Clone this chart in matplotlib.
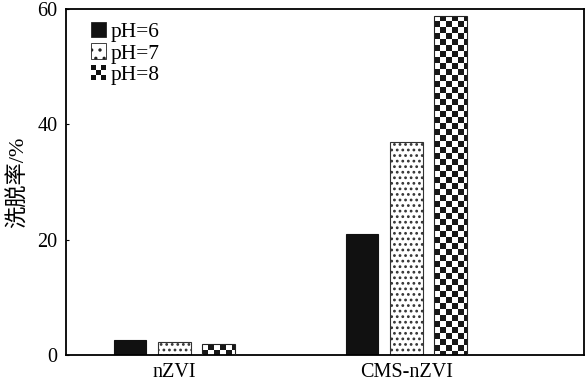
import numpy as np
import matplotlib
matplotlib.use("Agg")
import matplotlib.pyplot as plt
from matplotlib.patches import Rectangle
from matplotlib.legend_handler import HandlerBase

plt.rcParams['font.family'] = ['Liberation Serif', 'Noto Sans CJK SC']
plt.rcParams['hatch.linewidth'] = 1.2

groups = ['nZVI', 'CMS-nZVI']
series = ['pH=6', 'pH=7', 'pH=8']
values = {
    'pH=6': [2.6, 21.0],
    'pH=7': [2.3, 36.9],
    'pH=8': [1.9, 58.8],
}
yticks = [0, 20, 40, 60]

fig = plt.figure(figsize=(5.86, 3.87), dpi=100)
ax = fig.add_axes([66/586, 32/387, 518/586, 346/387])

x = np.arange(len(groups))
width = 0.142
offset = 0.19

# checker texture
checker = np.indices((200, 200)).sum(axis=0) % 2


def draw_checker(ax, x0, y0, w, h, cells_x=5.5):
    rect = Rectangle((x0, y0), w, h, facecolor='none', edgecolor='#222222', lw=0.8, zorder=3)
    ax.add_patch(rect)
    px_w = w * 232
    cell_px = px_w / cells_x
    px_per_y = 346 / 60
    cell_y = cell_px / px_per_y
    ny = int(np.ceil(h / cell_y))
    nx = int(np.ceil(cells_x))
    img = checker[:ny, :nx]
    im = ax.imshow(img, cmap='gray_r', extent=(x0, x0 + nx * (w / cells_x), y0 + h - ny * cell_y, y0 + h),
                   origin='upper', interpolation='nearest', aspect='auto', vmin=0, vmax=1.1, zorder=2)
    im.set_clip_path(rect)


for i, s in enumerate(series):
    pos = x + (i - 1) * offset
    for p, v in zip(pos, values[s]):
        if s == 'pH=6':
            ax.bar(p, v, width, color='#111111', edgecolor='#111111', lw=0.8, zorder=2)
        elif s == 'pH=7':
            ax.bar(p, v, width, color='white', edgecolor='#333333', hatch='...', lw=0.8, zorder=2)
        else:
            draw_checker(ax, p - width / 2, 0, width, v)


class CheckerHandler(HandlerBase):
    def create_artists(self, legend, orig_handle, xdescent, ydescent, width, height, fontsize, trans):
        arts = []
        n = 3
        s = height
        x0 = -xdescent + (width - s) / 2
        y0 = -ydescent
        c = s / n
        for a in range(n):
            for b in range(n):
                col = '#111111' if (a + b) % 2 == 0 else 'white'
                arts.append(Rectangle((x0 + a * c, y0 + b * c), c, c, facecolor=col,
                                      edgecolor='none', transform=trans))
        return arts


class SquareHandler(HandlerBase):
    def create_artists(self, legend, orig_handle, xdescent, ydescent, width, height, fontsize, trans):
        s = height
        x0 = -xdescent + (width - s) / 2
        r = Rectangle((x0, -ydescent), s, s, facecolor=orig_handle.get_facecolor(),
                      edgecolor='#222222', hatch=orig_handle.get_hatch(), lw=0.6, transform=trans)
        return [r]


h1 = Rectangle((0, 0), 1, 1, facecolor='#111111')
h2 = Rectangle((0, 0), 1, 1, facecolor='white', hatch='..')
h3 = Rectangle((0, 0), 1, 1)
ax.legend([h1, h2, h3], series, loc='upper left', bbox_to_anchor=(0.02, 1.005),
          frameon=False, fontsize=15.5, handlelength=0.7, handleheight=0.7,
          handletextpad=0.2, labelspacing=0.05, borderpad=0.2,
          handler_map={h1: SquareHandler(), h2: SquareHandler(), h3: CheckerHandler()})

ax.set_xlim(-0.466, 1.767)
ax.set_ylim(0, 60)
ax.set_yticks(yticks)
ax.set_xticks(x)
ax.set_xticklabels(groups)
ax.tick_params(axis='y', direction='in', length=2, width=0.8)
ax.tick_params(axis='x', length=0)
ax.tick_params(labelsize=14.5, pad=6)
ax.set_ylabel('洗脱率/%', fontsize=16, labelpad=6)
for sp in ax.spines.values():
    sp.set_linewidth(1.3)

fig.savefig('out.png', dpi=100)
